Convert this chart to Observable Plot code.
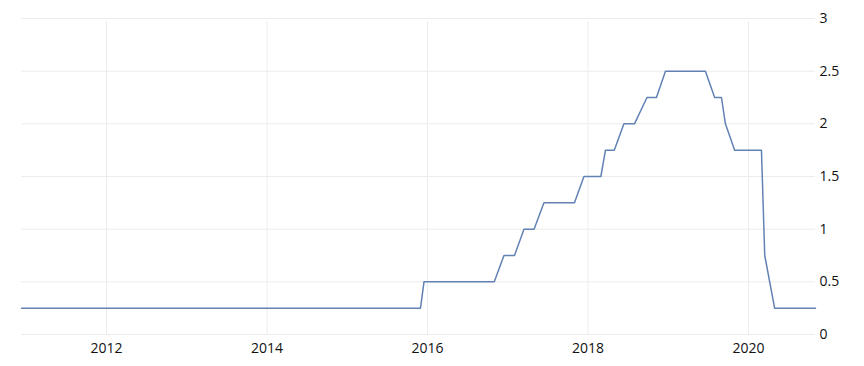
<!DOCTYPE html>
<html>
<head>
<meta charset="utf-8">
<script src="https://cdn.jsdelivr.net/npm/d3@7"></script>
<script src="https://cdn.jsdelivr.net/npm/@observablehq/plot@0.6"></script>
<style>
  html, body { margin: 0; padding: 0; background: #ffffff; }
  #chart { width: 864px; height: 366px; }
</style>
</head>
<body>
<div id="chart"></div>
<script>
// Dates where the rate series has a vertex
const dates = [
  "2010-12-10", "2015-11-30", "2015-12-16", "2016-10-31", "2016-12-14",
  "2017-01-31", "2017-03-15", "2017-04-30", "2017-06-14", "2017-10-31",
  "2017-12-13", "2018-02-28", "2018-03-21", "2018-04-30", "2018-06-13",
  "2018-07-31", "2018-09-26", "2018-11-08", "2018-12-19", "2019-06-19",
  "2019-07-31", "2019-08-31", "2019-09-18", "2019-10-30", "2020-02-29",
  "2020-03-15", "2020-04-29", "2020-11-01"
];
const rates = [
  0.25, 0.25, 0.5, 0.5, 0.75,
  0.75, 1.0, 1.0, 1.25, 1.25,
  1.5, 1.5, 1.75, 1.75, 2.0,
  2.0, 2.25, 2.25, 2.5, 2.5,
  2.25, 2.25, 2.0, 1.75, 1.75,
  0.75, 0.25, 0.25
];
const yTicks = [0, 0.5, 1, 1.5, 2, 2.5, 3];
const xTickYears = ["2012", "2014", "2016", "2018", "2020"];

const parse = d3.utcParse("%Y-%m-%d");
const data = dates.map((d, i) => ({date: parse(d), value: rates[i]}));
const xTicks = xTickYears.map(y => d3.utcParse("%Y")(y));

const chart = Plot.plot({
  width: 864,
  height: 366,
  marginLeft: 21,
  marginRight: 49,
  marginTop: 18,
  marginBottom: 32,
  style: {fontFamily: "'Open Sans', sans-serif", fontSize: "14px", color: "#111", background: "#ffffff"},
  x: {type: "utc", domain: d3.extent(data, d => d.date)},
  y: {domain: [0, 3]},
  marks: [
    Plot.ruleY(yTicks, {stroke: "#ececec", strokeWidth: 1}),
    Plot.ruleX(xTicks, {y1: 0, y2: 3, stroke: "#ececec", strokeWidth: 1, insetBottom: -3}),
    Plot.axisX({ticks: xTicks, tickFormat: "%Y", tickSize: 0, tickPadding: 9, label: null, fontSize: 14}),
    Plot.axisY({anchor: "right", ticks: yTicks, tickSize: 0, tickPadding: 4, label: null, fontSize: 14, tickFormat: d => String(d)}),
    Plot.line(data, {x: "date", y: "value", stroke: "#6282b6", strokeWidth: 1.5})
  ]
});
document.getElementById("chart").appendChild(chart);
</script>
</body>
</html>
